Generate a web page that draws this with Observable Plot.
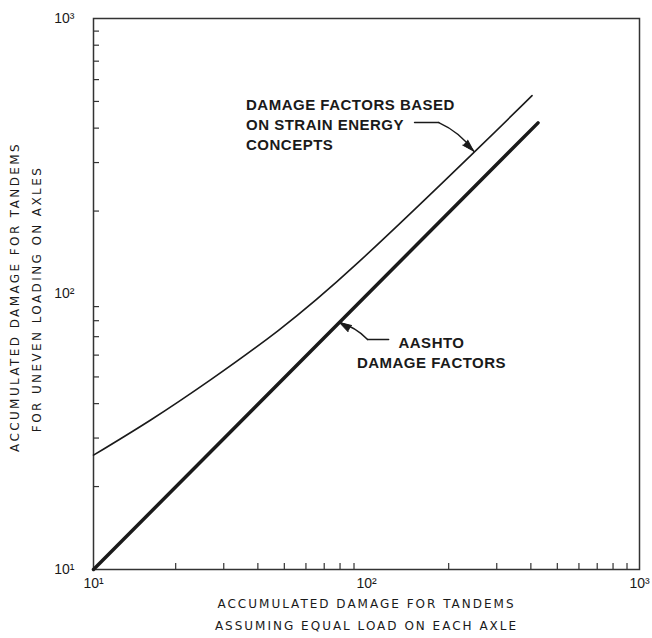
<!DOCTYPE html>
<html><head><meta charset="utf-8">
<script src="https://cdn.jsdelivr.net/npm/d3@7"></script>
<script src="https://cdn.jsdelivr.net/npm/@observablehq/plot@0.6"></script>
<style>body{margin:0;background:#fff}</style>
</head><body><div id="chart"></div>
<script>
// AASHTO damage factors (thick line)
const aashtoX = [10, 425];
const aashtoY = [10, 418];
// Damage factors based on strain energy concepts (thin line)
const strainX = [10, 16.2, 26.9, 47.5, 93.5, 247, 404];
const strainY = [26, 34.9, 48.9, 73.7, 130.5, 326, 525];
// ticks
const majorTicks = [10, 100, 1000];
const tickLabels = ["10¹", "10²", "10³"];
const minorTicks = [20, 30, 40, 50, 60, 70, 80, 90, 200, 300, 400, 500, 600, 700, 800, 900];
// titles
const xTitle = ["ACCUMULATED DAMAGE FOR TANDEMS", "ASSUMING EQUAL LOAD ON EACH AXLE"];
const yTitle = ["ACCUMULATED DAMAGE FOR TANDEMS", "FOR UNEVEN LOADING ON AXLES"];
// annotations (data coordinates)
const note1 = {x: 36.2, y: 525, text: "DAMAGE FACTORS BASED\nON STRAIN ENERGY\nCONCEPTS"};
const note1LeaderX = [150, 184];
const note1LeaderY = [419, 419];
const note1Arrow = {x1: 184, y1: 419, x2: 247, y2: 330};
const note1Head = {x: 247, y: 330, angle: 135};
const note2 = {x: 173, y: 71.9, text: "AASHTO\nDAMAGE FACTORS"};
const note2LeaderX = [120.5, 100.9];
const note2LeaderY = [68.4, 68.4];
const note2Arrow = {x1: 100.9, y1: 68.4, x2: 79.6, y2: 78.8};
const note2Head = {x: 79.6, y: 78.8, angle: 300};

const aashto = aashtoX.map((x, i) => ({x, y: aashtoY[i]}));
const strain = strainX.map((x, i) => ({x, y: strainY[i]}));
const lead1 = note1LeaderX.map((x, i) => ({x, y: note1LeaderY[i]}));
const lead2 = note2LeaderX.map((x, i) => ({x, y: note2LeaderY[i]}));
const ink = "#1a1a1a";

const chart = Plot.plot({
  width: 652, height: 638,
  marginLeft: 93, marginRight: 13, marginTop: 18, marginBottom: 69,
  x: {type: "log", domain: [10, 1000]},
  y: {type: "log", domain: [10, 1000]},
  style: {fontFamily: "Liberation Sans, Arial, sans-serif", color: ink, background: "#fff"},
  marks: [
    Plot.frame({stroke: "#333", strokeWidth: 1.5}),
    Plot.ruleX(minorTicks, {x: d => d, y1: 10, y2: 10, insetBottom: 6, stroke: "#333", strokeWidth: 1.2}),
    Plot.ruleY(minorTicks, {y: d => d, x1: 10, x2: 10, insetRight: -6, stroke: "#333", strokeWidth: 1.2}),
    Plot.axisX(majorTicks, {tickSize: 0, tickPadding: 9, fontSize: 14, label: null,
      tickFormat: d => tickLabels[majorTicks.indexOf(d)]}),
    Plot.axisY(majorTicks, {tickSize: 0, tickPadding: 19, fontSize: 14, label: null,
      tickFormat: d => tickLabels[majorTicks.indexOf(d)]}),
    Plot.line(strain, {x: "x", y: "y", stroke: ink, strokeWidth: 1.6, curve: "natural"}),
    Plot.line(aashto, {x: "x", y: "y", stroke: ink, strokeWidth: 3.5}),
    Plot.text([note1], {x: "x", y: "y", text: "text", textAnchor: "start", lineAnchor: "top",
      lineHeight: 1.33, fontSize: 15, fontWeight: "bold", fill: ink}),
    Plot.line(lead1, {x: "x", y: "y", stroke: ink, strokeWidth: 1.5}),
    Plot.arrow([note1Arrow], {x1: "x1", y1: "y1", x2: "x2", y2: "y2", bend: 15,
      headLength: 0, stroke: ink, strokeWidth: 1.5}),
    Plot.vector([note1Head], {x: "x", y: "y", rotate: "angle", length: 12, r: 3.5,
      anchor: "end", shape: "spike", fill: ink, stroke: ink, strokeWidth: 1}),
    Plot.text([note2], {x: "x", y: "y", text: "text", textAnchor: "middle", lineAnchor: "top",
      lineHeight: 1.33, fontSize: 15, fontWeight: "bold", fill: ink}),
    Plot.line(lead2, {x: "x", y: "y", stroke: ink, strokeWidth: 1.5}),
    Plot.arrow([note2Arrow], {x1: "x1", y1: "y1", x2: "x2", y2: "y2", bend: -15,
      headLength: 0, stroke: ink, strokeWidth: 1.5}),
    Plot.vector([note2Head], {x: "x", y: "y", rotate: "angle", length: 12, r: 3.5,
      anchor: "end", shape: "spike", fill: ink, stroke: ink, strokeWidth: 1}),
    Plot.text([xTitle[0]], {frameAnchor: "bottom", dy: 38, text: d => d, fontSize: 12, fontFamily: "DejaVu Sans", fill: ink}),
    Plot.text([xTitle[1]], {frameAnchor: "bottom", dy: 60, text: d => d, fontSize: 12, fontFamily: "DejaVu Sans", fill: ink}),
    Plot.text([yTitle[0]], {frameAnchor: "left", textAnchor: "middle", rotate: -90, dx: -78, dy: 3, text: d => d, fontSize: 12, fontFamily: "DejaVu Sans", fill: ink}),
    Plot.text([yTitle[1]], {frameAnchor: "left", textAnchor: "middle", rotate: -90, dx: -56, dy: 5, text: d => d, fontSize: 12, fontFamily: "DejaVu Sans", fill: ink})
  ]
});
const svg = d3.select(chart);
svg.selectAll("text")
  .filter(function() { return xTitle.includes(this.textContent) || yTitle.includes(this.textContent); })
  .each(function() {
    const rotated = /rotate/.test(this.getAttribute("transform") || "");
    d3.select(this).style("letter-spacing", rotated ? "2.4px" : "2px");
  });
svg.selectAll("text")
  .filter(function() { return this.textContent === note1.text.replace(/\n/g, "") || this.textContent === note2.text.replace(/\n/g, ""); })
  .style("letter-spacing", "0.5px");
document.getElementById("chart").append(chart);
</script>
</body></html>
